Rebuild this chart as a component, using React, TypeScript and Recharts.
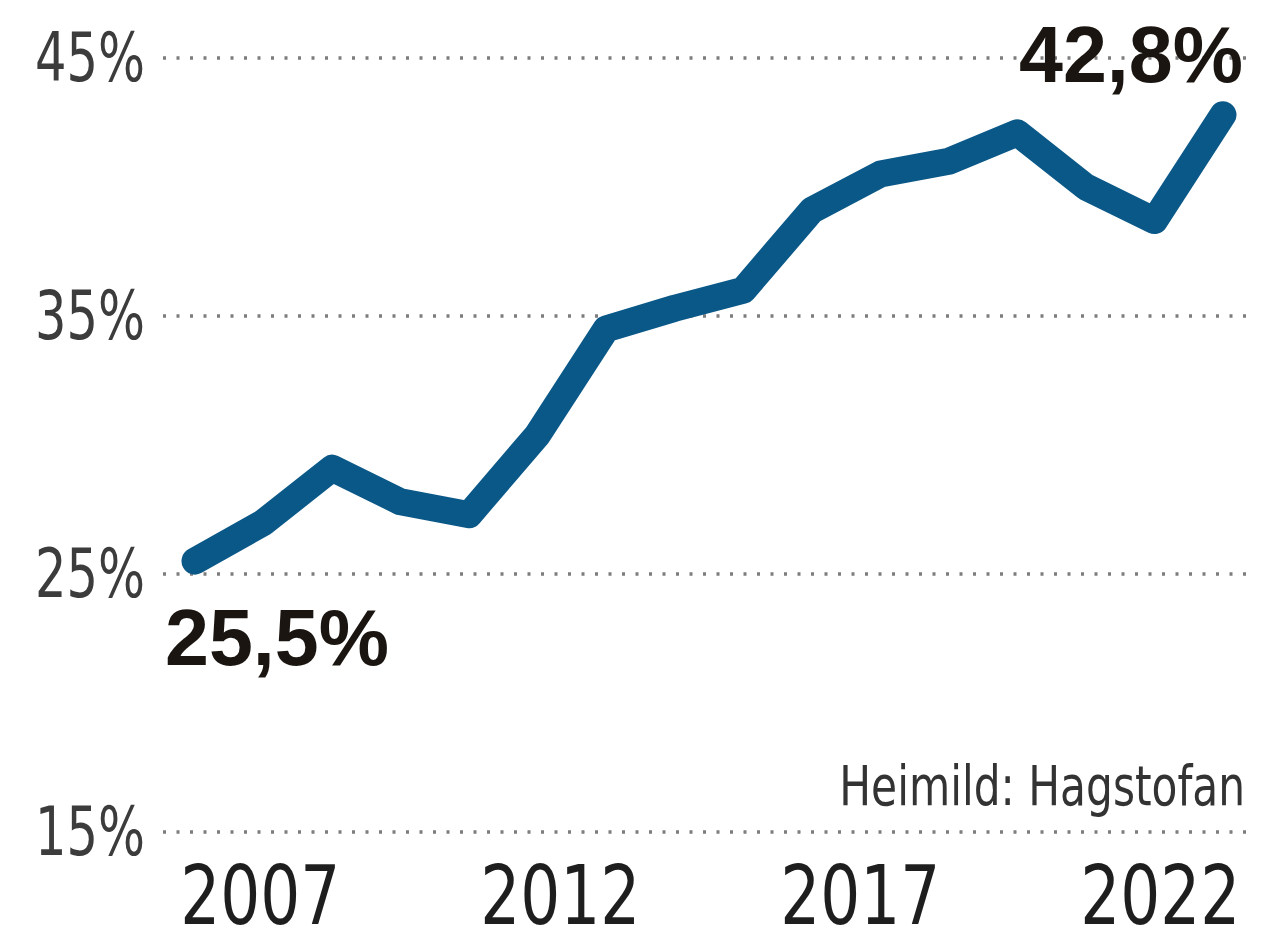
import * as React from "react"
import { LineChart, Line, XAxis, YAxis, CartesianGrid, LabelList } from "recharts"

const years = [2007, 2008, 2009, 2010, 2011, 2012, 2013, 2014, 2015, 2016, 2017, 2018, 2019, 2020, 2021, 2022]
const shares = [25.5, 27.0, 29.1, 27.8, 27.3, 30.4, 34.5, 35.3, 36.0, 39.1, 40.5, 41.0, 42.1, 40.0, 38.7, 42.8]
const yTicks = [15, 25, 35, 45]
const yearTicks = [2007, 2012, 2017, 2022]
const source = "Heimild: Hagstofan"

const data = years.map((year, i) => ({ year, share: shares[i] }))

const NARROW = "'Liberation Sans Narrow', 'DejaVu Sans Condensed', 'Liberation Sans', sans-serif"
const BLUE = "#0a5888"

const fmt = (v: number) => `${v.toFixed(1).replace(".", ",")}%`

// narrow face is squeezed to the width the printed labels have
const YTick = (props: any) => {
  const { x, y, payload } = props
  return (
    <text
      x={x}
      y={y}
      dy={23}
      textAnchor="end"
      fontFamily={NARROW}
      fontSize={68}
      fill="#3c3c3c"
      textLength={110}
      lengthAdjust="spacingAndGlyphs"
    >
      {`${payload.value}%`}
    </text>
  )
}

const XTick = (props: any) => {
  const { x, y, payload } = props
  return (
    <text
      x={x}
      y={y}
      dy={62}
      textAnchor="middle"
      fontFamily={NARROW}
      fontSize={82}
      fill="#1e1e1e"
      textLength={160}
      lengthAdjust="spacingAndGlyphs"
    >
      {payload.value}
    </text>
  )
}

// only the first and last points get a bold value label
const EndLabel = (props: any) => {
  const { x, y, index, value } = props
  const last = data.length - 1
  if (index !== 0 && index !== last) return null
  const first = index === 0
  return (
    <text
      x={first ? x - 30 : x + 20}
      y={first ? y + 104 : y - 33}
      textAnchor={first ? "start" : "end"}
      fontFamily="'Liberation Sans', Arial, sans-serif"
      fontWeight={700}
      fontSize={79}
      fill="#1a1510"
    >
      {fmt(Number(value))}
    </text>
  )
}

export default function App() {
  return (
    <div style={{ position: "absolute", left: 0, top: 0, width: 1264, height: 928, background: "#fff", overflow: "hidden" }}>
      <LineChart width={1264} height={928} data={data} margin={{ top: 58, right: 12, bottom: 6, left: 0 }}>
        <CartesianGrid
          vertical={false}
          stroke="#7d7d7d"
          strokeWidth={3.5}
          strokeDasharray="3 10.5"
        />
        <XAxis
          dataKey="year"
          type="number"
          domain={["dataMin", "dataMax"]}
          padding={{ left: 32, right: 29 }}
          hide
        />
        {/* printed year labels sit on their own, slightly tighter spacing */}
        <XAxis
          xAxisId="labels"
          dataKey="year"
          type="number"
          domain={[2005.38, 2023.53]}
          allowDataOverflow
          ticks={yearTicks}
          interval={0}
          height={90}
          axisLine={false}
          tickLine={false}
          tickSize={0}
          tickMargin={0}
          tick={<XTick />}
        />
        <YAxis
          domain={[15, 45]}
          ticks={yTicks}
          interval={0}
          width={163}
          axisLine={false}
          tickLine={false}
          tickMargin={12}
          tick={<YTick />}
        />
        <Line
          xAxisId="labels"
          dataKey="share"
          stroke="none"
          dot={false}
          activeDot={false}
          legendType="none"
          isAnimationActive={false}
        />
        <Line
          dataKey="share"
          type="linear"
          stroke={BLUE}
          strokeWidth={27}
          strokeLinejoin="round"
          strokeLinecap="round"
          dot={false}
          activeDot={false}
          isAnimationActive={false}
        >
          <LabelList dataKey="share" content={EndLabel} />
        </Line>
      </LineChart>
      <div
        style={{
          position: "absolute",
          right: 1264 - 1245,
          top: 758,
          fontFamily: NARROW,
          fontSize: 56,
          lineHeight: "56px",
          color: "#333",
          whiteSpace: "nowrap",
          transform: "scaleX(0.84)",
          transformOrigin: "right center",
        }}
      >
        {source}
      </div>
    </div>
  )
}
